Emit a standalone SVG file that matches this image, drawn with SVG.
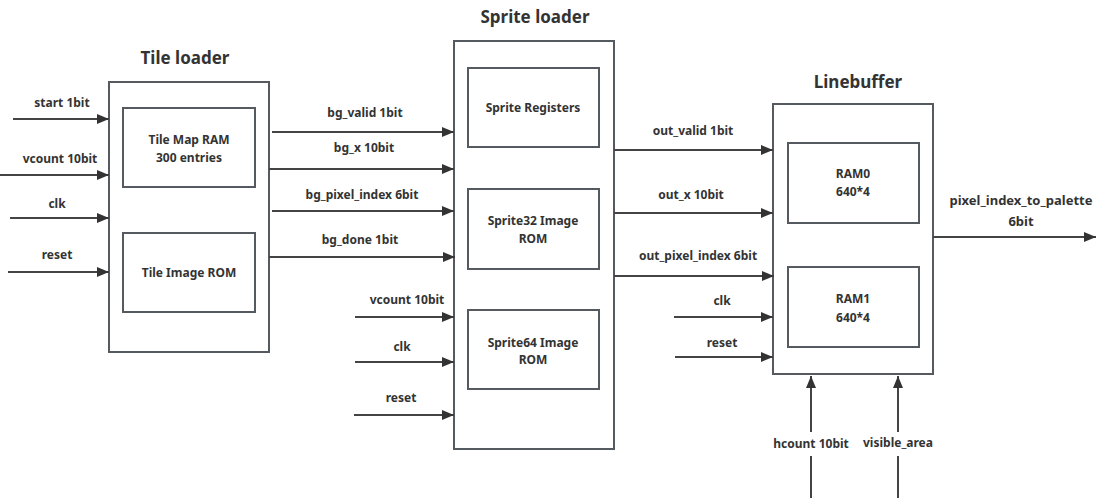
<svg xmlns="http://www.w3.org/2000/svg" width="1096" height="498" viewBox="0 0 1096 498">
<defs>
<style>
.box{fill:#fff;stroke:#555a60;stroke-width:2}
.inner{fill:#fff;stroke:#555a60;stroke-width:2}
.t{font-family:"Noto Sans","Open Sans",sans-serif;font-weight:700;font-size:12px;fill:#333;text-anchor:middle}
.title{font-family:"Noto Sans","Open Sans",sans-serif;font-weight:700;font-size:17px;fill:#333;text-anchor:middle}
.w{stroke:#444;stroke-width:2;fill:none}
.a{stroke:#444;stroke-width:2;fill:none;marker-end:url(#ah)}
</style>
<marker id="ah" markerUnits="userSpaceOnUse" markerWidth="12" markerHeight="10" refX="12" refY="5" orient="auto">
<path d="M0,0 L12,5 L0,10 z" fill="#333"/>
</marker>
</defs>
<rect width="1096" height="498" fill="#fff"/>

<g id="tile-loader">
<text class="title" x="185" y="64">Tile loader</text>
<rect class="box" x="109" y="82" width="160" height="270"/>
<rect class="inner" x="123" y="108" width="132" height="79"/>
<text class="t" x="189" y="144">Tile Map RAM</text>
<text class="t" x="189" y="162">300 entries</text>
<rect class="inner" x="123" y="233" width="132" height="79"/>
<text class="t" x="189" y="277">Tile Image ROM</text>
</g>

<g id="sprite-loader">
<text class="title" x="535" y="23">Sprite loader</text>
<rect class="box" x="454" y="41" width="160" height="408"/>
<rect class="inner" x="468" y="68" width="131" height="79"/>
<text class="t" x="533" y="112">Sprite Registers</text>
<rect class="inner" x="468" y="189" width="131" height="80"/>
<text class="t" x="533" y="225">Sprite32 Image</text>
<text class="t" x="533" y="243">ROM</text>
<rect class="inner" x="468" y="310" width="131" height="79"/>
<text class="t" x="533" y="347">Sprite64 Image</text>
<text class="t" x="533" y="364">ROM</text>
</g>

<g id="linebuffer">
<text class="title" x="858" y="88">Linebuffer</text>
<rect class="box" x="773" y="104" width="160" height="270"/>
<rect class="inner" x="788" y="143" width="131" height="80"/>
<text class="t" x="853" y="178">RAM0</text>
<text class="t" x="853" y="196">640*4</text>
<rect class="inner" x="788" y="267" width="131" height="80"/>
<text class="t" x="853" y="303">RAM1</text>
<text class="t" x="853" y="322">640*4</text>
</g>

<g id="connectors">
<line class="a" x1="13" y1="119" x2="109" y2="119"/>
<line class="a" x1="0" y1="175" x2="109" y2="175"/>
<line class="a" x1="10" y1="218" x2="109" y2="218"/>
<line class="a" x1="8" y1="272" x2="109" y2="272"/>

<line class="a" x1="272" y1="132" x2="454" y2="132"/>
<line class="a" x1="269" y1="169" x2="454" y2="169"/>
<line class="a" x1="272" y1="211" x2="454" y2="211"/>
<line class="a" x1="269" y1="257" x2="455" y2="257"/>
<line class="a" x1="355" y1="317" x2="454" y2="317"/>
<line class="a" x1="355" y1="362" x2="454" y2="362"/>
<line class="a" x1="354" y1="415" x2="454" y2="415"/>

<line class="a" x1="614" y1="150" x2="773" y2="150"/>
<line class="a" x1="614" y1="213" x2="773" y2="213"/>
<line class="a" x1="614" y1="276" x2="774" y2="276"/>
<line class="a" x1="674" y1="317" x2="773" y2="317"/>
<line class="a" x1="675" y1="357" x2="773" y2="357"/>

<line class="a" x1="933" y1="237" x2="1096" y2="237"/>

<line class="w" x1="811" y1="498" x2="811" y2="456"/>
<line class="a" x1="811" y1="432" x2="811" y2="376"/>
<line class="w" x1="898" y1="498" x2="898" y2="456"/>
<line class="a" x1="898" y1="432" x2="898" y2="376"/>
</g>

<g id="labels">
<text class="t" x="62" y="107">start 1bit</text>
<text class="t" x="60" y="163">vcount 10bit</text>
<text class="t" x="57" y="208">clk</text>
<text class="t" x="57" y="259">reset</text>
<text class="t" x="365" y="117">bg_valid 1bit</text>
<text class="t" x="364" y="152">bg_x 10bit</text>
<text class="t" x="362" y="199">bg_pixel_index 6bit</text>
<text class="t" x="360" y="244">bg_done 1bit</text>
<text class="t" x="407" y="304">vcount 10bit</text>
<text class="t" x="402" y="351">clk</text>
<text class="t" x="401" y="402">reset</text>
<text class="t" x="693" y="135">out_valid 1bit</text>
<text class="t" x="691" y="199">out_x 10bit</text>
<text class="t" x="698" y="260">out_pixel_index 6bit</text>
<text class="t" x="722" y="305">clk</text>
<text class="t" x="722" y="347">reset</text>
<text class="t" x="1021" y="205" style="font-size:13px">pixel_index_to_palette</text>
<text class="t" x="1021" y="226" style="font-size:13px">6bit</text>
<text class="t" x="811" y="448">hcount 10bit</text>
<text class="t" x="898" y="447">visible_area</text>
</g>
</svg>
